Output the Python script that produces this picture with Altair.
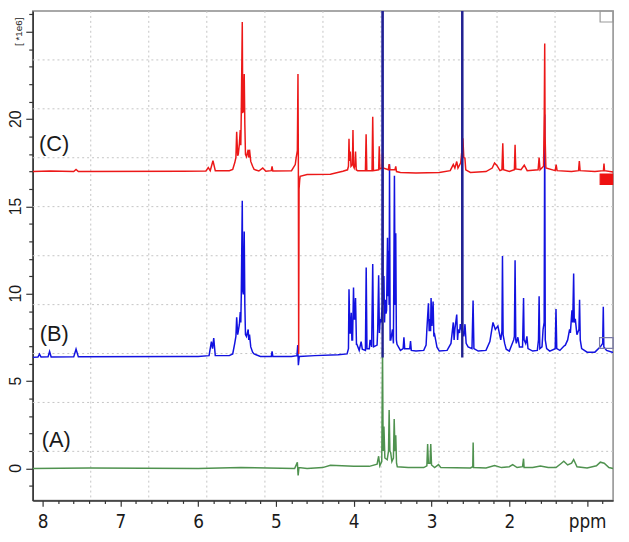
import altair as alt
import pandas as pd

# ---------------- data ----------------
# each spectrum: (ppm, intensity relative to its own baseline, x1e6)
spec_A = [
    (8.127, 0.0), (7.4, 0.02), (6.0, 0.0), (5.45, 0.05), (4.76, 0.0), (4.725, 0.35),
    (4.715, -0.4), (4.705, 0.05), (4.60, 0.0), (4.40, 0.05), (4.30, 0.18), (4.15, 0.15),
    (4.00, 0.12), (3.80, 0.12), (3.70, 0.25), (3.68, 0.7), (3.665, 0.15), (3.640, 0.4),
    (3.630, 6.9), (3.622, 1.0), (3.612, 2.4), (3.60, 0.6), (3.57, 0.5), (3.553, 1.0),
    (3.545, 3.34), (3.535, 1.0), (3.525, 0.9), (3.51, 0.4), (3.49, 0.6), (3.48, 2.83),
    (3.47, 1.0), (3.46, 1.9), (3.45, 0.3), (3.44, 0.1), (3.30, 0.05), (3.10, 0.05),
    (3.06, 0.15), (3.05, 1.4), (3.04, 0.3), (3.02, 0.3), (3.01, 1.4), (3.00, 0.2),
    (2.96, 0.05), (2.91, 0.22), (2.88, 0.05), (2.50, 0.03), (2.47, 0.1), (2.465, 1.49),
    (2.46, 0.05), (2.30, 0.03), (2.19, 0.17), (2.10, 0.05), (2.00, 0.1), (1.957, 0.22),
    (1.90, 0.05), (1.83, 0.1), (1.817, 0.56), (1.81, 0.05), (1.70, 0.05), (1.60, 0.14),
    (1.50, 0.05), (1.40, 0.05), (1.33, 0.3), (1.30, 0.41), (1.25, 0.2), (1.20, 0.3),
    (1.173, 0.51), (1.13, 0.1), (1.00, 0.03), (0.88, 0.15), (0.83, 0.36), (0.78, 0.3),
    (0.72, 0.05), (0.666, 0.0),
]

spec_B = [
    (8.127, 0.0), (8.06, 0.02), (8.04, 0.19), (8.02, 0.02), (7.93, 0.03), (7.91, 0.34),
    (7.89, 0.02), (7.60, 0.03), (7.57, 0.47), (7.54, 0.03), (6.20, 0.05), (6.0, 0.05),
    (5.86, 0.1), (5.83, 0.9), (5.815, 0.5), (5.80, 1.1), (5.78, 0.1), (5.60, 0.1),
    (5.556, 0.2), (5.53, 0.8), (5.515, 1.2), (5.505, 2.3), (5.492, 1.3), (5.484, 1.5),
    (5.47, 1.9), (5.459, 2.6), (5.452, 2.0), (5.446, 3.5), (5.433, 8.96), (5.427, 3.8),
    (5.42, 3.6), (5.408, 7.2), (5.40, 3.0), (5.392, 1.3), (5.379, 1.2), (5.357, 1.6),
    (5.35, 1.0), (5.34, 1.3), (5.324, 0.6), (5.30, 0.3), (5.281, 0.2), (5.20, 0.05),
    (5.06, 0.05), (5.05, 0.35), (5.04, 0.05), (4.80, 0.05), (4.73, 0.1), (4.72, 0.7),
    (4.712, -0.45), (4.70, 0.05), (4.50, 0.1), (4.20, 0.15), (4.086, 0.2), (4.068, 0.5),
    (4.061, 3.9), (4.05, 1.4), (4.044, 1.4), (4.032, 2.56), (4.024, 1.0), (4.015, 1.0),
    (4.003, 4.0), (3.995, 2.2), (3.99, 2.2), (3.977, 3.4), (3.965, 0.75), (3.96, 0.75),
    (3.93, 0.4), (3.905, 0.9), (3.89, 0.47), (3.85, 0.4), (3.84, 5.15), (3.83, 0.5),
    (3.80, 0.5), (3.79, 1.0), (3.77, 0.6), (3.756, 5.34), (3.745, 0.6), (3.70, 0.7),
    (3.692, 1.6), (3.68, 4.7), (3.67, 1.4), (3.66, 2.2), (3.647, 2.0), (3.634, 3.0),
    (3.629, 30.0), (3.624, 3.0), (3.612, 4.66), (3.604, 2.0), (3.596, 3.3), (3.585, 2.5),
    (3.578, 2.7), (3.566, 6.85), (3.56, 3.5), (3.553, 6.1), (3.545, 3.0), (3.54, 11.05),
    (3.532, 1.0), (3.524, 1.0), (3.502, 1.6), (3.49, 0.8), (3.477, 10.4), (3.468, 3.0),
    (3.46, 7.1), (3.452, 1.0), (3.444, 0.75), (3.40, 0.4), (3.365, 0.5), (3.355, 1.15),
    (3.345, 0.5), (3.28, 0.5), (3.27, 0.94), (3.26, 0.4), (3.20, 0.36), (3.10, 0.4),
    (3.07, 0.7), (3.06, 1.6), (3.04, 3.1), (3.03, 1.5), (3.02, 2.2), (3.012, 1.5),
    (3.006, 3.4), (2.995, 1.8), (2.98, 3.2), (2.97, 1.2), (2.96, 1.3), (2.93, 0.58),
    (2.90, 0.36), (2.80, 0.4), (2.75, 0.8), (2.72, 2.0), (2.71, 1.0), (2.70, 1.6),
    (2.676, 2.45), (2.665, 1.0), (2.656, 1.6), (2.64, 1.4), (2.63, 1.9), (2.61, 1.5),
    (2.605, 30.0), (2.60, 1.5), (2.585, 1.2), (2.57, 1.9), (2.555, 0.8), (2.53, 0.6),
    (2.48, 0.5), (2.466, 3.26), (2.455, 0.5), (2.40, 0.36), (2.30, 0.4), (2.25, 0.9),
    (2.21, 2.0), (2.18, 1.6), (2.147, 1.8), (2.12, 1.2), (2.11, 1.0), (2.095, 1.5),
    (2.088, 5.8), (2.08, 1.3), (2.06, 0.8), (2.04, 0.47), (2.00, 0.36), (1.944, 1.0),
    (1.935, 1.2), (1.926, 5.56), (1.917, 1.0), (1.91, 0.8), (1.89, 1.15), (1.87, 0.6),
    (1.83, 0.6), (1.817, 3.4), (1.81, 1.0), (1.79, 0.8), (1.774, 1.2), (1.76, 0.5),
    (1.70, 0.36), (1.64, 0.4), (1.625, 1.0), (1.617, 3.5), (1.608, 0.5), (1.58, 0.6),
    (1.566, 1.6), (1.552, 2.0), (1.545, 13.9), (1.538, 1.0), (1.52, 0.5), (1.48, 0.36),
    (1.41, 0.5), (1.40, 2.77), (1.39, 0.5), (1.35, 0.4), (1.30, 0.64), (1.28, 0.7),
    (1.25, 1.0), (1.225, 1.6), (1.215, 1.4), (1.195, 2.7), (1.185, 2.0), (1.173, 4.8),
    (1.165, 2.0), (1.152, 2.2), (1.131, 1.3), (1.105, 1.6), (1.097, 3.3), (1.088, 1.0),
    (1.07, 0.5), (1.00, 0.3), (0.90, 0.3), (0.83, 0.6), (0.80, 0.8), (0.792, 2.9),
    (0.785, 0.6), (0.75, 0.4), (0.666, 0.28),
]

spec_C = [
    (8.127, 0.0), (7.90, 0.03), (7.60, 0.0), (7.57, 0.12), (7.54, 0.0), (6.20, 0.02),
    (5.90, 0.03), (5.87, 0.22), (5.845, 0.05), (5.81, 0.62), (5.78, 0.05), (5.60, 0.05),
    (5.556, 0.12), (5.53, 0.5), (5.515, 0.8), (5.505, 2.28), (5.492, 0.9), (5.484, 1.0),
    (5.47, 1.6), (5.459, 2.38), (5.452, 1.5), (5.446, 3.32), (5.433, 8.56), (5.427, 3.4),
    (5.42, 3.42), (5.408, 5.58), (5.400, 2.68), (5.392, 0.98), (5.379, 0.85), (5.357, 1.25),
    (5.35, 0.8), (5.34, 1.25), (5.324, 0.58), (5.30, 0.3), (5.281, 0.12), (5.22, 0.03),
    (5.17, 0.2), (5.13, 0.02), (5.06, 0.05), (5.05, 0.3), (5.04, 0.03), (4.80, 0.05),
    (4.752, 0.4), (4.74, 0.8), (4.725, 1.2), (4.717, 5.58), (4.712, 0.5), (4.708, -10.45),
    (4.703, -1.0), (4.695, -0.5), (4.689, -0.27), (4.60, -0.17), (4.30, -0.15), (4.14, 0.02),
    (4.08, 0.1), (4.068, 0.3), (4.061, 1.87), (4.055, 0.6), (4.044, 1.15), (4.035, 0.3),
    (4.017, 0.4), (4.01, 2.38), (4.003, 0.3), (3.994, 0.2), (3.984, 0.4), (3.977, 1.15),
    (3.968, 0.1), (3.95, 0.05), (3.85, 0.05), (3.841, 2.13), (3.832, 0.05), (3.765, 0.05),
    (3.756, 3.13), (3.747, 0.05), (3.68, 0.1), (3.672, 1.45), (3.664, 0.15), (3.636, 0.2),
    (3.629, 1.06), (3.622, 0.2), (3.555, 0.1), (3.545, 0.42), (3.535, 0.1), (3.47, 0.1),
    (3.46, 0.3), (3.45, 0.0), (3.40, -0.05), (3.20, -0.08), (2.90, -0.05), (2.76, 0.05),
    (2.72, 0.4), (2.70, 0.2), (2.676, 0.57), (2.66, 0.2), (2.625, 0.5), (2.613, 1.06),
    (2.605, 0.7), (2.597, 1.9), (2.585, 0.8), (2.571, 0.77), (2.56, 0.1), (2.50, -0.05),
    (2.30, 0.0), (2.22, 0.2), (2.19, 0.49), (2.16, 0.35), (2.12, 0.05), (2.095, 0.1),
    (2.084, 1.62), (2.075, 0.1), (2.00, 0.0), (1.935, 0.1), (1.926, 1.53), (1.917, 0.15),
    (1.85, 0.1), (1.808, 0.36), (1.77, 0.05), (1.63, 0.1), (1.617, 0.8), (1.605, 0.1),
    (1.56, 0.3), (1.551, 3.23), (1.545, 7.33), (1.540, 2.0), (1.53, 0.2), (1.41, 0.05),
    (1.398, 0.4), (1.386, 0.05), (1.20, 0.0), (1.11, 0.05), (1.10, 0.6), (1.09, 0.05),
    (0.90, 0.0), (0.79, 0.05), (0.783, 0.45), (0.776, 0.05), (0.666, -0.03),
]

series_names = ["A", "B", "C"]
series_offsets = [0.0, 6.36, 17.0]
series_colors = ["#4f924f", "#1212e0", "#ec1818"]

# tall dark blue spikes of spectrum B
spike_ppm = [3.629, 2.605]
spike_top = [30.0, 30.0]

# trace labels
label_text = ["(A)", "(B)", "(C)"]
label_ppm = [8.01, 8.035, 8.047]
label_val = [1.63, 7.68, 18.6]

# y-axis tick labels (rotated, as in the reference) and unit label
ylab_vals = [0, 5, 10, 15, 20]
unit_text = ["[ *1e6]"]
unit_val = [25]

# software-drawn frame grid (10 divisions of the window)
grid_ppm = [7.381, 6.635, 5.889, 5.142, 4.396, 3.650, 2.904, 2.158, 1.412]
grid_val = [23.39, 20.59, 17.79, 14.99, 12.18, 9.38, 6.58, 3.78, 0.98]

# small window markers at the right edge
marker_ppm1 = [0.833, 0.832, 0.840]
marker_ppm2 = [0.666, 0.672, 0.666]
marker_val1 = [25.56, 16.26, 6.87]
marker_val2 = [26.19, 16.86, 7.49]
marker_fill = ["transparent", "#ee1111", "transparent"]
marker_stroke = ["#999999", "#ee1111", "#7a7aa8"]

x_ticks = [round(8.0 - 0.2 * i, 1) for i in range(37)]
y_ticks = list(range(-1, 27))

# ---------------- build tables ----------------
def trace_df(pts, off):
    return pd.DataFrame({
        "ppm": [p for p, _ in pts],
        "value": [v + off for _, v in pts],
        "idx": list(range(len(pts))),
    })

df_A = trace_df(spec_A, series_offsets[0])
df_B = trace_df(spec_B, series_offsets[1])
df_C = trace_df(spec_C, series_offsets[2])

df_spike = pd.DataFrame({"ppm": spike_ppm, "value": [series_offsets[1]] * len(spike_ppm), "top": spike_top})
df_lab = pd.DataFrame({"ppm": label_ppm, "value": label_val, "text": label_text})
df_ylab = pd.DataFrame({"value": ylab_vals, "text": [str(v) for v in ylab_vals]})
df_unit = pd.DataFrame({"value": unit_val, "text": unit_text})
df_gx = pd.DataFrame({"ppm": grid_ppm})
df_gy = pd.DataFrame({"value": grid_val})
df_mk = pd.DataFrame({"ppm": marker_ppm1, "ppm2": marker_ppm2, "value": marker_val1,
                      "value2": marker_val2, "fill": marker_fill, "stroke": marker_stroke})

# ---------------- scales & axes ----------------
xscale = alt.Scale(domain=[8.127, 0.666], nice=False, zero=False)
yscale = alt.Scale(domain=[-1.83, 26.19], nice=False, zero=False)

NARROW = "Liberation Sans Narrow, DejaVu Sans Condensed, Liberation Sans, sans-serif"

xaxis = alt.Axis(
    values=x_ticks, title=None, grid=False,
    labelExpr="abs(datum.value-1)<0.01 ? 'ppm' : (abs(datum.value-round(datum.value))<0.01 ? format(datum.value,'d') : '')",
    tickSize={"condition": {"test": "abs(datum.value-round(datum.value))<0.01", "value": 6}, "value": 3},
    labelFont=NARROW, labelFontSize=19, labelColor="#1a1a1a",
    labelPadding=6, labelOverlap=False, labelFlush=False,
    tickColor="#333333", tickWidth=1.2, domainColor="#333333", domainWidth=1.5,
)
yaxis = alt.Axis(
    values=y_ticks, title=None, grid=False, labels=False,
    tickSize={"condition": {"test": "datum.value % 5 == 0", "value": 7}, "value": 4},
    tickColor="#333333", tickWidth=1.2, domainColor="#333333", domainWidth=1.5,
)

X = alt.X("ppm:Q", scale=xscale, axis=xaxis)
Y = alt.Y("value:Q", scale=yscale, axis=yaxis)

grid_style = dict(color="#c4c4c4", strokeDash=[2, 3], strokeWidth=1)
gx = alt.Chart(df_gx).mark_rule(**grid_style).encode(x=X)
gy = alt.Chart(df_gy).mark_rule(**grid_style).encode(y=Y)

LW = 1.5
line_A = alt.Chart(df_A).mark_line(color=series_colors[0], strokeWidth=LW, clip=True).encode(
    x=X, y=Y, order="idx:Q")
line_B = alt.Chart(df_B).mark_line(color=series_colors[1], strokeWidth=LW, clip=True).encode(
    x=X, y=Y, order="idx:Q")
line_C = alt.Chart(df_C).mark_line(color=series_colors[2], strokeWidth=LW, clip=True).encode(
    x=X, y=Y, order="idx:Q")
spikes = alt.Chart(df_spike).mark_rule(color="#22228e", strokeWidth=2.4, clip=True).encode(
    x=X, y=Y, y2="top:Q")

labels = alt.Chart(df_lab).mark_text(
    align="left", baseline="middle", font="Liberation Sans, sans-serif", fontSize=22, color="#1a1a1a"
).encode(x=X, y=Y, text="text:N")

ylabels = alt.Chart(df_ylab).mark_text(
    angle=270, align="center", baseline="middle", font="Liberation Sans, sans-serif",
    fontSize=16, color="#1a1a1a"
).encode(x=alt.value(-17), y=Y, text="text:N")

unit = alt.Chart(df_unit).mark_text(
    angle=270, align="center", baseline="middle", font="Liberation Sans, sans-serif",
    fontSize=10, color="#1a1a1a"
).encode(x=alt.value(-14), y=Y, text="text:N")

markers = alt.Chart(df_mk).mark_rect(strokeWidth=1.2).encode(
    x=X, x2="ppm2:Q", y=Y, y2="value2:Q",
    fill=alt.Fill("fill:N", scale=None), stroke=alt.Stroke("stroke:N", scale=None))

chart = alt.layer(gx, gy, line_A, line_B, line_C, spikes, markers, labels, ylabels, unit).properties(
    width=587, height=495,
    autosize=alt.AutoSizeParams(type="none"),
    padding={"left": 25, "top": 0, "right": 8, "bottom": 39},
    background="white",
).configure_view(stroke="#8c8c8c", strokeWidth=1.5)

chart.save("out.html", embed_options={"renderer": "svg", "actions": False})
